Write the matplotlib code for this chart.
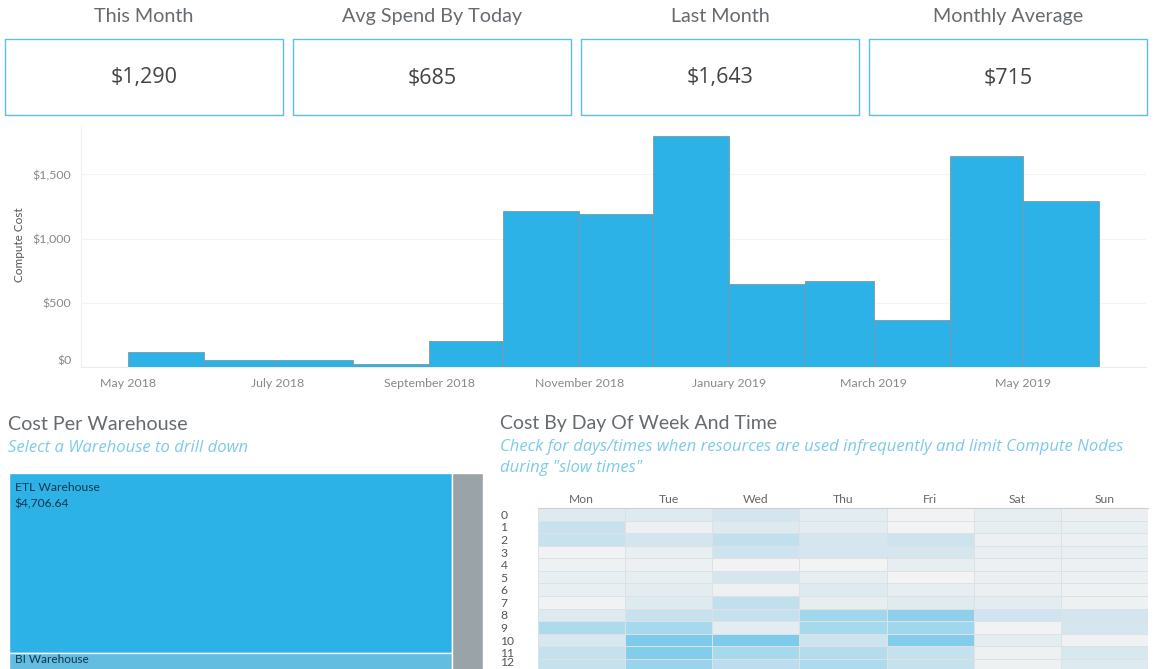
import numpy as np
import pandas as pd
import matplotlib
matplotlib.use("Agg")
import matplotlib.pyplot as plt
import matplotlib.dates as mdates
from matplotlib.colors import LinearSegmentedColormap
from matplotlib.patches import Rectangle
from matplotlib.transforms import ScaledTranslation

W, H = 1158, 669

kpi_titles = ["This Month", "Avg Spend By Today", "Last Month", "Monthly Average"]
kpi_values = ["$1,290", "$685", "$1,643", "$715"]

months = pd.date_range("2018-05-01", "2019-06-01", freq="MS")
month_cost = [114, 52, 52, 26, 203, 1217, 1194, 1800, 643, 667, 364, 1643, 1290]
cost_ticks = [0, 500, 1000, 1500]
cost_labels = ["$0", "$500", "$1,000", "$1,500"]

warehouses = ["ETL Warehouse", "BI Warehouse", "Other"]
warehouse_cost = [4706.64, 1180, 410]

days = ["Mon", "Tue", "Wed", "Thu", "Fri", "Sat", "Sun"]
hours = list(range(13))
mon = [.20, .40, .40, .03, .05, .10, .10, .03, .20, .60, .25, .42, .42]
tue = [.20, .07, .30, .10, .07, .12, .15, .20, .40, .65, 1.0, .95, .75]
wed = [.30, .20, .45, .35, .03, .28, .05, .45, .42, .15, 1.0, .65, .50]
thu = [.15, .15, .28, .28, .01, .12, .20, .12, .70, .65, .35, .55, .60]
fri = [.03, .00, .35, .28, .12, .00, .12, .18, .85, .70, .95, .42, .42]
sat = [.12, .12, .07, .10, .07, .08, .08, .15, .33, .03, .15, .05, .05]
sun = [.08, .10, .07, .10, .07, .07, .05, .05, .30, .28, .04, .25, .20]

plt.rcParams["font.family"] = ["Lato", "DejaVu Sans"]

BLUE = "#2db2e8"
GREY = "#666b70"
SUB = "#7ccbe6"


def px_axes(fig, x0, y0, x1, y1):
    # axes from pixel box, y measured from the top
    return fig.add_axes([x0 / W, 1 - y1 / H, (x1 - x0) / W, (y1 - y0) / H])


def px_text(fig, x, y, s, **kw):
    kw.setdefault("va", "center")
    return fig.text(x / W, 1 - y / H, s, **kw)


fig = plt.figure(figsize=(W / 100, H / 100), dpi=100)

# kpi cards
for i, (t, v) in enumerate(zip(kpi_titles, kpi_values)):
    x0 = 5 + i * 288
    fig.add_artist(Rectangle((x0 / W, 1 - 115 / H), 278 / W, 76 / H, transform=fig.transFigure,
                             fill=False, ec="#5cc0dc", lw=1))
    px_text(fig, x0 + 139, 16.5, t, ha="center", fontsize=14.2, color=GREY)
    px_text(fig, x0 + 139, 78, v, ha="center", fontsize=15.5, color="#444444", family="Open Sans",
            fontweight="medium")

# monthly cost bars
ax = px_axes(fig, 81, 127, 1146, 367)
starts = mdates.date2num(months[:-1])
widths = np.diff(mdates.date2num(months))
ax.bar(starts, month_cost, width=widths, align="edge", color=BLUE, edgecolor="#7f98a6", linewidth=0.6, zorder=3)
ax.set_xlim(mdates.date2num(pd.Timestamp("2018-04-12")), mdates.date2num(pd.Timestamp("2019-06-20")))
ax.set_ylim(0, 1870)
ax.set_yticks(cost_ticks)
ax.set_yticklabels(cost_labels, fontsize=8.9, color="#85898c")
ax.get_yticklabels()[0].set_va("bottom")
ax.xaxis.set_major_locator(mdates.MonthLocator(bymonth=[1, 3, 5, 7, 9, 11]))
ax.xaxis.set_major_formatter(mdates.DateFormatter("%B %Y"))
ax.tick_params(axis="both", length=0)
ax.tick_params(axis="x", labelsize=8.9, labelcolor="#85898c", pad=8)
ax.tick_params(axis="y", pad=7)
ax.grid(axis="y", color="#f4f4f4", lw=0.8)
ax.set_axisbelow(True)
for s in ["top", "right"]:
    ax.spines[s].set_visible(False)
ax.spines["left"].set_color("#f0f0f0")
ax.spines["bottom"].set_color("#ececec")
px_text(fig, 20, 245, "Compute Cost", rotation=90, ha="center", fontsize=8.5, color="#555555")

# section headers
px_text(fig, 8, 424, "Cost Per Warehouse", fontsize=14.2, color=GREY)
px_text(fig, 8, 448, "Select a Warehouse to drill down", fontsize=12, color=SUB, style="italic",
        family="Open Sans")
px_text(fig, 500, 424, "Cost By Day Of Week And Time", fontsize=14, color=GREY)
px_text(fig, 500, 447, "Check for days/times when resources are used infrequently and limit Compute Nodes",
        fontsize=12, color=SUB, style="italic", family="Open Sans")
px_text(fig, 500, 468, 'during "slow times"', fontsize=12, color=SUB, style="italic", family="Open Sans")

# treemap, slice and dice on the warehouse costs; runs off the bottom like the screenshot
ax2 = px_axes(fig, 8.5, 473, 483, 669)
total = sum(warehouse_cost)
left_share = (warehouse_cost[0] + warehouse_cost[1]) / total
etl_share = warehouse_cost[0] / (warehouse_cost[0] + warehouse_cost[1])
ax2.bar(0, etl_share, width=left_share, align="edge", bottom=0, color=BLUE, edgecolor="white", linewidth=1)
ax2.bar(0, 1 - etl_share, width=left_share, align="edge", bottom=etl_share, color="#62bde0",
        edgecolor="white", linewidth=1)
ax2.bar(left_share, 1, width=1 - left_share, align="edge", color="#9aa3a8", edgecolor="white", linewidth=1)
ax2.set_xlim(0, 1)
ax2.set_ylim(0.871, 0)
ax2.axis("off")
ax2.text(0.013, 0.04, warehouses[0] + "\n${:,.2f}".format(warehouse_cost[0]), fontsize=8.7, color="#12374a",
         va="top", linespacing=1.6)
ax2.text(0.013, etl_share + 0.006, warehouses[1], fontsize=8.5, color="#12374a", va="top")

# day/hour heatmap
cmap = LinearSegmentedColormap.from_list("tb", ["#f3f3f3", "#cfe4ee", "#a5d8ec", "#7ccaec"])
grid = np.array([mon, tue, wed, thu, fri, sat, sun]).T
ax3 = px_axes(fig, 538, 508, 1148, 669)
ax3.pcolormesh(np.arange(8), np.arange(14), grid, cmap=cmap, vmin=0, vmax=1,
               edgecolors="#dde1e3", linewidth=0.5)
ax3.set_xlim(0, 7)
ax3.set_ylim(12.8, 0)
ax3.xaxis.tick_top()
ax3.set_xticks(np.arange(7) + 0.5)
ax3.set_xticklabels(days, fontsize=8.7, color="#666666")
ax3.set_yticks(np.array(hours) + 0.5)
ax3.set_yticklabels([str(h) for h in hours], fontsize=8.7, color="#555555", ha="left")
ax3.tick_params(axis="both", length=0)
ax3.tick_params(axis="x", pad=2.5)
ax3.tick_params(axis="y", pad=27)
# nudge the last hour label up so it stays inside the picture
last = ax3.get_yticklabels()[-1]
last.set_transform(last.get_transform() + ScaledTranslation(0, 2.5 / 72, fig.dpi_scale_trans))
for s in ["left", "right", "bottom"]:
    ax3.spines[s].set_visible(False)
ax3.spines["top"].set_color("#cfcfcf")

fig.savefig("out.png", dpi=100)
